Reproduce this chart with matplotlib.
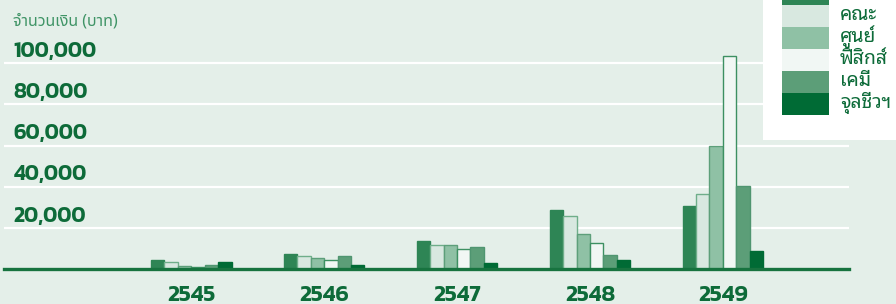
import matplotlib
matplotlib.use("Agg")
import numpy as np
import matplotlib.pyplot as plt
from matplotlib.patches import Rectangle
from matplotlib.transforms import blended_transform_factory
import warnings
warnings.filterwarnings("ignore")

# Data
years = ['2545', '2546', '2547', '2548', '2549']
series_names = ['มหาวิทยาลัย', 'คณะ', 'ศูนย์', 'ฟิสิกส์', 'เคมี', 'จุลชีวฯ']
s1 = [4500, 7400, 13700, 29000, 30800]
s2 = [3700, 6400, 11600, 25800, 36500]
s3 = [1600, 5500, 11600, 17100, 59600]
s4 = [1000, 4400, 9700, 12600, 103500]
s5 = [2100, 6300, 10800, 6800, 40200]
s6 = [3700, 1900, 2900, 4400, 8700]
values = [s1, s2, s3, s4, s5, s6]
yticks = [20000, 40000, 60000, 80000, 100000]

# Style
bg = '#e4efe9'
green = '#0d6b39'
fills = ['#2e8555', '#d8e8e0', '#8fc1a5', '#f1f7f4', '#5c9e78', '#006b35']
edges = ['#2e8555', '#6fae8a', '#5d9f7a', '#3d9062', '#4f9570', '#006b35']
num_font = ['Kanit', 'Prompt', 'DejaVu Sans']
thai_loop = ['Noto Sans Thai Looped', 'Sarabun', 'Noto Sans Thai', 'DejaVu Sans']
thai_thin = ['Noto Sans Thai', 'Kanit', 'DejaVu Sans']

fig = plt.figure(figsize=(8.96, 3.04), dpi=100, facecolor=bg)
ax = fig.add_axes([4 / 896, 1 - 269.3 / 304, 845 / 896, 269.3 / 304])
ax.set_facecolor(bg)

x = np.arange(len(years))
w = 0.101
for i, vals in enumerate(values):
    ax.bar(x + (i - 2.5) * w, vals, w, color=fills[i], edgecolor=edges[i],
           linewidth=1.0, zorder=3)

ax.set_xlim(-1.41, 4.95)
ax.set_ylim(0, 130700)
for y in yticks:
    ax.axhline(y, color='white', linewidth=1.6, zorder=1)
for s in ['top', 'right', 'left']:
    ax.spines[s].set_visible(False)
ax.spines['bottom'].set_color('#17733f')
ax.spines['bottom'].set_linewidth(2.4)
ax.spines['bottom'].set_zorder(4)
ax.set_xticks([])
ax.set_yticks([])

# y tick labels above gridlines
tr = blended_transform_factory(ax.transAxes, ax.transData)
for y in yticks:
    ax.text(0.011, y + 1200, '{:,}'.format(y), transform=tr, ha='left', va='bottom',
            fontsize=15.5, fontweight='semibold', color=green, family=num_font)

ax.text(0.011, 1.0 - 22 / 269.3, 'จำนวนเงิน (บาท)', transform=ax.transAxes,
        ha='left', va='center', fontsize=11.5, fontweight='light', color='#3f9466',
        family=thai_thin)

# x labels
for i, yr in enumerate(years):
    ax.text(x[i], -0.098, yr, transform=blended_transform_factory(ax.transData, ax.transAxes),
            ha='center', va='center', fontsize=16.5, fontweight='semibold', color=green,
            family=num_font, clip_on=False)

# legend panel
lax = fig.add_axes([763 / 896, 1 - 140 / 304, 133 / 896, 140 / 304])
lax.set_xlim(0, 133)
lax.set_ylim(140, 0)
lax.axis('off')
lax.add_patch(Rectangle((0, 0), 133, 140, facecolor='white', edgecolor='none'))
for i, name in enumerate(series_names):
    top = -17 + 22 * i
    lax.add_patch(Rectangle((19, top), 47, 22, facecolor=fills[i], edgecolor='none'))
    if top >= 0:  # first row is cut off by the top edge
        lax.text(77, top + 10, name, ha='left', va='center', fontsize=14,
                 fontweight='bold', color=green, family=thai_loop)

fig.savefig('out.png', dpi=100, facecolor=bg)
